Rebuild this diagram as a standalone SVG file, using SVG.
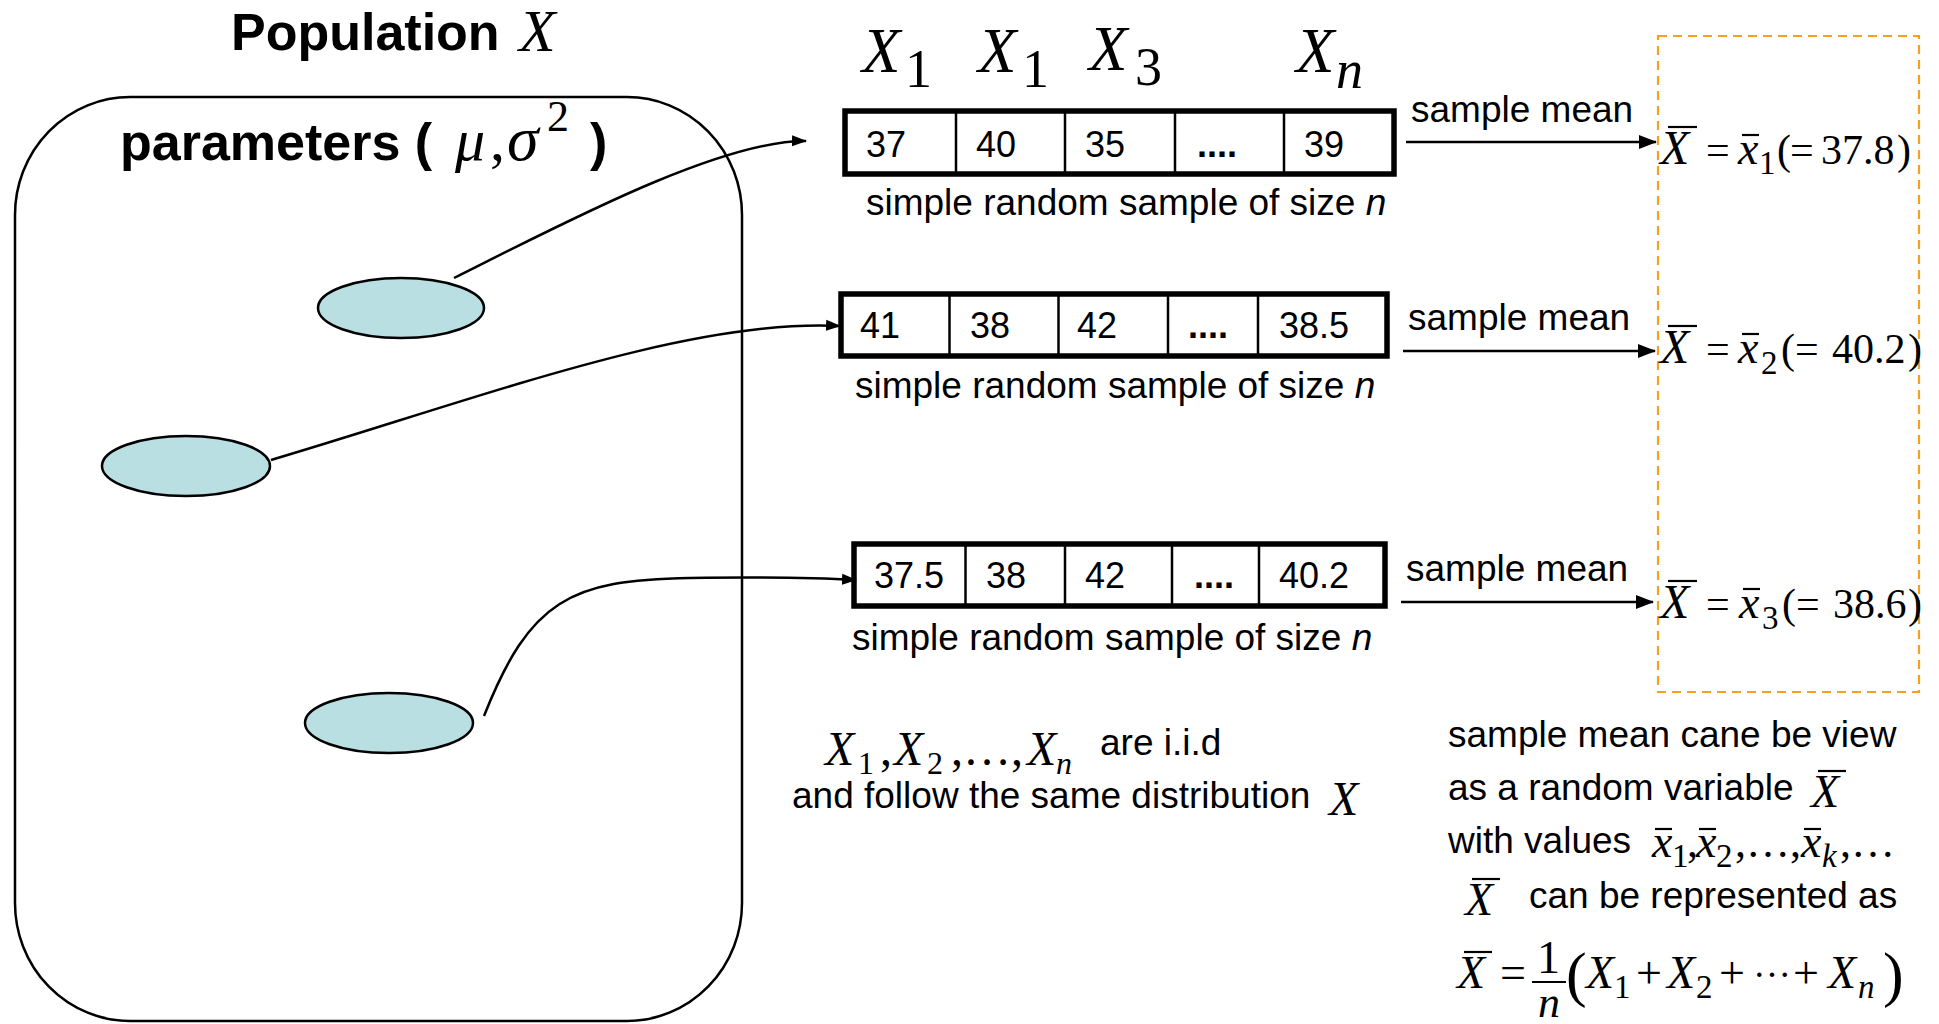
<svg xmlns="http://www.w3.org/2000/svg" width="1939" height="1024" viewBox="0 0 1939 1024">
  <defs>
    <style>
      .sans{font-family:"Liberation Sans",Arial,sans-serif;fill:#000}
      .bold{font-weight:bold}
      .serif{font-family:"Liberation Serif","Times New Roman",serif;fill:#000}
      .it{font-style:italic}
      .cell{font-size:36px}
      .cap{font-size:37px}
      .m48{font-size:48px}
      .m46{font-size:46px}
      .m44{font-size:44px}
      .m42{font-size:42px}
      .sub{font-size:33px}
      .frame{fill:#fff;stroke:#000;stroke-width:5.5}
      .div{stroke:#000;stroke-width:2.5}
      .blob{fill:#b9dfe3;stroke:#000;stroke-width:2.5}
      .wire{fill:none;stroke:#000;stroke-width:2.5}
      .bar{stroke:#000;stroke-width:2.2}
    </style>
    <marker id="head" markerUnits="userSpaceOnUse" markerWidth="18" markerHeight="16" refX="17" refY="8" orient="auto">
      <path d="M0,1 L18,8 L0,15 z" fill="#000"/>
    </marker>
    <marker id="headS" markerUnits="userSpaceOnUse" markerWidth="15" markerHeight="12" refX="14" refY="6" orient="auto">
      <path d="M0,0.5 L15,6 L0,11.5 z" fill="#000"/>
    </marker>
  </defs>

  <rect width="1939" height="1024" fill="#fff"/>

  <!-- population container -->
  <g id="population">
    <rect x="15" y="97" width="727" height="924" rx="115" ry="118" fill="none" stroke="#000" stroke-width="2.5"/>
    <text class="sans bold" x="231" y="50" font-size="52">Population</text>
    <text class="serif it" x="519" y="51" font-size="60">X</text>
    <text class="sans bold" x="120" y="160" font-size="52">parameters (</text>
    <text class="serif it" x="455" y="160" font-size="60">μ</text>
    <text class="serif" x="490" y="160" font-size="60">,</text>
    <text class="serif it" x="507" y="160" font-size="64">σ</text>
    <text class="serif" x="547" y="131" font-size="44">2</text>
    <text class="sans bold" x="590" y="160" font-size="52">)</text>
  </g>

  <!-- individuals drawn from the population -->
  <g id="unit-1"><ellipse class="blob" cx="401" cy="308" rx="83" ry="30"/></g>
  <g id="unit-2"><ellipse class="blob" cx="186" cy="466" rx="84" ry="30"/></g>
  <g id="unit-3"><ellipse class="blob" cx="389" cy="723" rx="84" ry="30"/></g>

  <!-- column headers -->
  <g id="headers">
    <text class="serif it" x="862" y="72" font-size="63">X</text>
    <text class="serif" x="905" y="87" font-size="54">1</text>
    <text class="serif it" x="978" y="72" font-size="63">X</text>
    <text class="serif" x="1022" y="87" font-size="54">1</text>
    <text class="serif it" x="1089" y="70" font-size="63">X</text>
    <text class="serif" x="1135" y="85" font-size="54">3</text>
    <text class="serif it" x="1296" y="72" font-size="63">X</text>
    <text class="serif it" x="1336" y="88" font-size="54">n</text>
  </g>

  <!-- sample 1 -->
  <g id="sample-1">
    <rect class="frame" x="845" y="111" width="549" height="63"/>
    <line class="div" x1="956" y1="111" x2="956" y2="174"/>
    <line class="div" x1="1065" y1="111" x2="1065" y2="174"/>
    <line class="div" x1="1175" y1="111" x2="1175" y2="174"/>
    <line class="div" x1="1284" y1="111" x2="1284" y2="174"/>
    <text class="sans cell" x="866" y="157">37</text>
    <text class="sans cell" x="976" y="157">40</text>
    <text class="sans cell" x="1085" y="157">35</text>
    <text class="sans cell bold" x="1197" y="157">....</text>
    <text class="sans cell" x="1304" y="157">39</text>
    <text class="sans cap" x="866" y="215">simple random sample of size <tspan class="it">n</tspan></text>
  </g>

  <!-- sample 2 -->
  <g id="sample-2">
    <rect class="frame" x="841" y="294" width="546" height="62"/>
    <line class="div" x1="949.5" y1="294" x2="949.5" y2="356"/>
    <line class="div" x1="1058.5" y1="294" x2="1058.5" y2="356"/>
    <line class="div" x1="1168" y1="294" x2="1168" y2="356"/>
    <line class="div" x1="1258" y1="294" x2="1258" y2="356"/>
    <text class="sans cell" x="860" y="338">41</text>
    <text class="sans cell" x="970" y="338">38</text>
    <text class="sans cell" x="1077" y="338">42</text>
    <text class="sans cell bold" x="1188" y="338">....</text>
    <text class="sans cell" x="1279" y="338">38.5</text>
    <text class="sans cap" x="855" y="398">simple random sample of size <tspan class="it">n</tspan></text>
  </g>

  <!-- sample 3 -->
  <g id="sample-3">
    <rect class="frame" x="854" y="544" width="531" height="62"/>
    <line class="div" x1="965.5" y1="544" x2="965.5" y2="606"/>
    <line class="div" x1="1065" y1="544" x2="1065" y2="606"/>
    <line class="div" x1="1172" y1="544" x2="1172" y2="606"/>
    <line class="div" x1="1259" y1="544" x2="1259" y2="606"/>
    <text class="sans cell" x="874" y="588">37.5</text>
    <text class="sans cell" x="986" y="588">38</text>
    <text class="sans cell" x="1085" y="588">42</text>
    <text class="sans cell bold" x="1194" y="588">....</text>
    <text class="sans cell" x="1279" y="588">40.2</text>
    <text class="sans cap" x="852" y="650">simple random sample of size <tspan class="it">n</tspan></text>
  </g>

  <!-- connectors -->
  <g id="connectors">
    <path class="wire" d="M454,278 C560,225 720,140 806,141" marker-end="url(#headS)"/>
    <path class="wire" d="M271,460 C480,398 690,318 840,326" marker-end="url(#headS)"/>
    <path class="wire" d="M484,716 C530,600 570,580 690,578 C760,577 820,578 856,580" marker-end="url(#headS)"/>
    <line class="wire" x1="1406" y1="142" x2="1656" y2="142" marker-end="url(#head)"/>
    <line class="wire" x1="1403" y1="351" x2="1655" y2="351" marker-end="url(#head)"/>
    <line class="wire" x1="1401" y1="602" x2="1653" y2="602" marker-end="url(#head)"/>
    <text class="sans cap" x="1411" y="122">sample mean</text>
    <text class="sans cap" x="1408" y="330">sample mean</text>
    <text class="sans cap" x="1406" y="581">sample mean</text>
  </g>

  <!-- sample means -->
  <g id="means">
    <rect x="1658" y="36" width="261" height="656" fill="none" stroke="#f5a01e" stroke-width="2.2" stroke-dasharray="9,6"/>

    <text class="serif it m48" x="1660" y="164">X</text>
    <line class="bar" x1="1668" y1="127" x2="1697" y2="127"/>
    <text class="serif m42" x="1706" y="164">=</text>
    <text class="serif it m46" x="1738" y="164">x</text>
    <line class="bar" x1="1742" y1="135" x2="1759" y2="135"/>
    <text class="serif sub" x="1759" y="174">1</text>
    <text class="serif m42" x="1777" y="164">(</text>
    <text class="serif m42" x="1790" y="164">=</text>
    <text class="serif m42" x="1821" y="164">37.8</text>
    <text class="serif m42" x="1897" y="164">)</text>

    <text class="serif it m48" x="1660" y="363">X</text>
    <line class="bar" x1="1668" y1="326" x2="1697" y2="326"/>
    <text class="serif m42" x="1706" y="363">=</text>
    <text class="serif it m46" x="1738" y="363">x</text>
    <line class="bar" x1="1742" y1="334" x2="1759" y2="334"/>
    <text class="serif sub" x="1761" y="374">2</text>
    <text class="serif m42" x="1781" y="363">(</text>
    <text class="serif m42" x="1795" y="363">=</text>
    <text class="serif m42" x="1832" y="363">40.2</text>
    <text class="serif m42" x="1908" y="363">)</text>

    <text class="serif it m48" x="1660" y="618">X</text>
    <line class="bar" x1="1668" y1="581" x2="1697" y2="581"/>
    <text class="serif m42" x="1706" y="618">=</text>
    <text class="serif it m46" x="1739" y="618">x</text>
    <line class="bar" x1="1743" y1="589" x2="1760" y2="589"/>
    <text class="serif sub" x="1762" y="629">3</text>
    <text class="serif m42" x="1782" y="618">(</text>
    <text class="serif m42" x="1796" y="618">=</text>
    <text class="serif m42" x="1833" y="618">38.6</text>
    <text class="serif m42" x="1908" y="618">)</text>
  </g>

  <!-- i.i.d note -->
  <g id="iid-note">
    <text class="serif it" x="825" y="765" font-size="48">X</text>
    <text class="serif" x="858" y="774" font-size="32">1</text>
    <text class="serif" x="880" y="765" font-size="48">,</text>
    <text class="serif it" x="894" y="765" font-size="48">X</text>
    <text class="serif" x="927" y="774" font-size="32">2</text>
    <text class="serif" x="951" y="765" font-size="48">,…,</text>
    <text class="serif it" x="1027" y="765" font-size="48">X</text>
    <text class="serif it" x="1056" y="774" font-size="32">n</text>
    <text class="sans cap" x="1100" y="755">are i.i.d</text>
    <text class="sans cap" x="792" y="808">and follow the same distribution</text>
    <text class="serif it" x="1329" y="815" font-size="48">X</text>
  </g>

  <!-- sample mean as a random variable -->
  <g id="mean-note">
    <text class="sans cap" x="1448" y="747">sample mean cane be view</text>
    <text class="sans cap" x="1448" y="800">as a random variable</text>
    <text class="serif it m46" x="1811" y="807">X</text>
    <line class="bar" x1="1818" y1="771" x2="1846" y2="771"/>

    <text class="sans cap" x="1448" y="853">with values</text>
    <text class="serif it m46" x="1652" y="857">x</text>
    <line class="bar" x1="1655" y1="829" x2="1672" y2="829"/>
    <text class="serif sub" x="1672" y="867">1</text>
    <text class="serif m44" x="1687" y="857">,</text>
    <text class="serif it m46" x="1696" y="857">x</text>
    <line class="bar" x1="1699" y1="829" x2="1716" y2="829"/>
    <text class="serif sub" x="1716" y="867">2</text>
    <text class="serif m44" x="1735" y="857">,…,</text>
    <text class="serif it m46" x="1801" y="857">x</text>
    <line class="bar" x1="1804" y1="829" x2="1821" y2="829"/>
    <text class="serif it sub" x="1822" y="867">k</text>
    <text class="serif m44" x="1840" y="857">,…</text>

    <text class="serif it m46" x="1465" y="915">X</text>
    <line class="bar" x1="1472" y1="879" x2="1500" y2="879"/>
    <text class="sans cap" x="1529" y="908">can be represented as</text>

    <text class="serif it m46" x="1457" y="988">X</text>
    <line class="bar" x1="1464" y1="952" x2="1492" y2="952"/>
    <text class="serif m46" x="1500" y="988">=</text>
    <text class="serif m46" x="1537" y="973">1</text>
    <line class="bar" x1="1532" y1="982" x2="1566" y2="982"/>
    <text class="serif it m44" x="1538" y="1017">n</text>
    <text class="serif" x="1566" y="995" font-size="62">(</text>
    <text class="serif it m46" x="1586" y="988">X</text>
    <text class="serif sub" x="1614" y="998">1</text>
    <text class="serif m46" x="1636" y="988">+</text>
    <text class="serif it m46" x="1667" y="988">X</text>
    <text class="serif sub" x="1696" y="998">2</text>
    <text class="serif m46" x="1719" y="988">+</text>
    <text class="serif" x="1753" y="977" font-size="38">…</text>
    <text class="serif m46" x="1793" y="988">+</text>
    <text class="serif it m46" x="1828" y="988">X</text>
    <text class="serif it sub" x="1858" y="998">n</text>
    <text class="serif" x="1883" y="995" font-size="62">)</text>
  </g>
</svg>
